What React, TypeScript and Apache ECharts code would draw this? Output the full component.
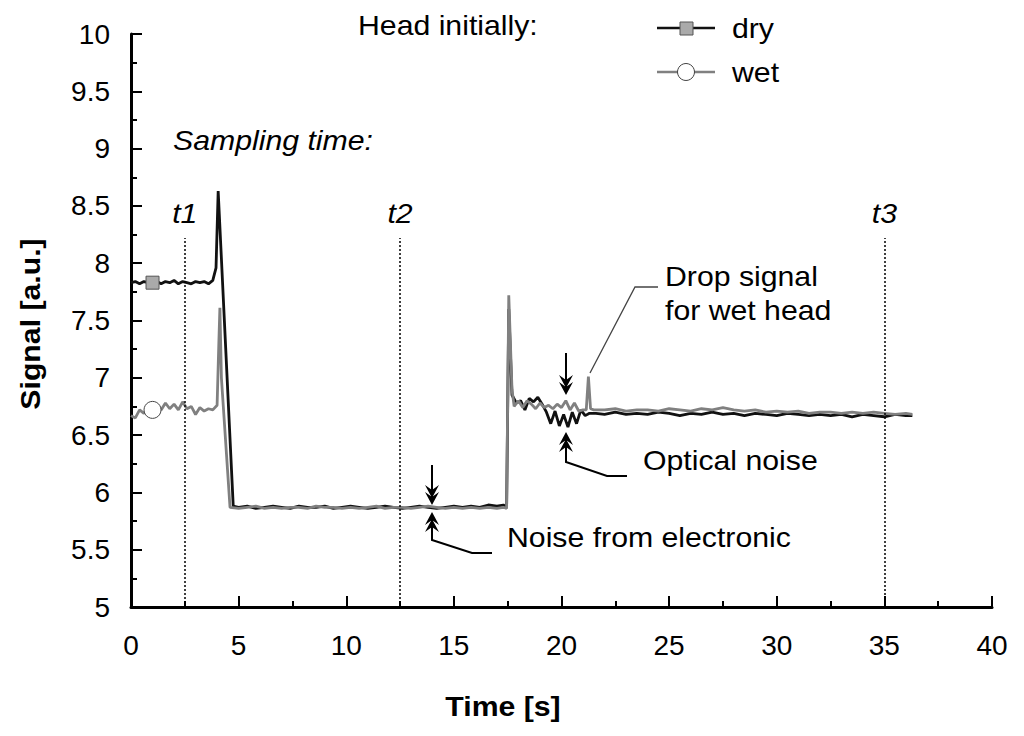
import React, { useEffect, useRef } from "react";
import * as echarts from "echarts";

// ---- data ----
const xTicks = [0, 5, 10, 15, 20, 25, 30, 35, 40];
const yTicks = [5, 5.5, 6, 6.5, 7, 7.5, 8, 8.5, 9, 9.5, 10];
const samplingTimes = [2.5, 12.5, 35];
const samplingLabels = ["t1", "t2", "t3"];
const samplingLineTop = 8.22;

const dryData: [number, number][] = [
  [0, 7.83], [0.2, 7.84], [0.4, 7.82], [0.6, 7.84], [0.8, 7.83], [1.0, 7.83], [1.2, 7.84], [1.4, 7.82],
  [1.6, 7.84], [1.8, 7.83], [2.0, 7.85], [2.2, 7.82], [2.4, 7.84], [2.6, 7.83], [2.8, 7.82], [3.0, 7.84],
  [3.2, 7.83], [3.4, 7.84], [3.6, 7.82], [3.8, 7.85], [3.95, 7.96], [4.05, 8.63], [4.75, 5.88],
  [5.0, 5.87], [5.4, 5.88], [5.8, 5.86], [6.2, 5.87], [6.6, 5.88], [7.0, 5.87], [7.4, 5.86], [7.8, 5.88],
  [8.2, 5.87], [8.6, 5.87], [9.0, 5.88], [9.4, 5.86], [9.8, 5.87], [10.2, 5.88], [10.6, 5.87], [11.0, 5.86],
  [11.4, 5.87], [11.8, 5.88], [12.2, 5.87], [12.6, 5.86], [13.0, 5.87], [13.4, 5.88], [13.8, 5.87], [14.2, 5.86],
  [14.6, 5.87], [15.0, 5.88], [15.4, 5.87], [15.8, 5.88], [16.2, 5.87], [16.6, 5.89], [17.0, 5.88], [17.3, 5.89],
  [17.45, 5.87], [17.55, 7.6], [17.7, 6.85], [17.9, 6.78], [18.1, 6.8], [18.3, 6.72], [18.5, 6.82], [18.7, 6.79],
  [18.9, 6.83], [19.1, 6.77], [19.3, 6.7], [19.5, 6.6], [19.7, 6.71], [19.9, 6.58], [20.1, 6.68], [20.3, 6.57],
  [20.5, 6.7], [20.7, 6.6], [20.9, 6.72], [21.1, 6.67], [21.3, 6.69],
  [21.6, 6.69], [22.0, 6.68], [22.5, 6.7], [23.0, 6.68], [23.5, 6.69], [24.0, 6.68], [24.5, 6.7], [25.0, 6.69],
  [25.5, 6.67], [26.0, 6.69], [26.5, 6.68], [27.0, 6.7], [27.5, 6.68], [28.0, 6.69], [28.5, 6.67], [29.0, 6.69],
  [29.5, 6.68], [30.0, 6.67], [30.5, 6.69], [31.0, 6.68], [31.5, 6.67], [32.0, 6.68], [32.5, 6.67], [33.0, 6.68],
  [33.5, 6.66], [34.0, 6.68], [34.5, 6.67], [35.0, 6.66], [35.5, 6.68], [36.0, 6.67], [36.3, 6.67],
];

const wetData: [number, number][] = [
  [0, 6.67], [0.2, 6.65], [0.4, 6.72], [0.6, 6.69], [0.8, 6.73], [1.0, 6.72], [1.2, 6.76], [1.4, 6.72],
  [1.6, 6.78], [1.8, 6.73], [2.0, 6.77], [2.2, 6.72], [2.4, 6.79], [2.6, 6.73], [2.8, 6.75], [3.0, 6.68],
  [3.2, 6.74], [3.4, 6.71], [3.6, 6.73], [3.8, 6.72], [4.0, 6.76], [4.08, 7.3], [4.13, 7.61], [4.2, 7.0],
  [4.6, 5.87],
  [5.0, 5.86], [5.4, 5.87], [5.8, 5.88], [6.2, 5.86], [6.6, 5.87], [7.0, 5.86], [7.4, 5.87], [7.8, 5.87],
  [8.2, 5.86], [8.6, 5.88], [9.0, 5.87], [9.4, 5.87], [9.8, 5.86], [10.2, 5.87], [10.6, 5.86], [11.0, 5.87],
  [11.4, 5.88], [11.8, 5.86], [12.2, 5.87], [12.6, 5.87], [13.0, 5.86], [13.4, 5.87], [13.8, 5.88], [14.2, 5.87],
  [14.6, 5.86], [15.0, 5.87], [15.4, 5.86], [15.8, 5.87], [16.2, 5.86], [16.6, 5.87], [17.0, 5.86], [17.3, 5.87],
  [17.45, 5.86], [17.55, 7.72], [17.7, 6.9], [17.8, 6.75], [18.0, 6.8], [18.2, 6.74], [18.4, 6.8], [18.6, 6.77],
  [18.8, 6.73], [19.0, 6.78], [19.2, 6.74], [19.4, 6.76], [19.6, 6.73], [19.8, 6.77], [20.0, 6.74], [20.2, 6.8],
  [20.4, 6.72], [20.6, 6.78], [20.8, 6.71], [21.0, 6.72], [21.15, 6.72], [21.25, 7.01], [21.35, 6.73], [21.5, 6.72],
  [22.0, 6.72], [22.5, 6.73], [23.0, 6.71], [23.5, 6.72], [24.0, 6.72], [24.5, 6.71], [25.0, 6.73], [25.5, 6.72],
  [26.0, 6.71], [26.5, 6.73], [27.0, 6.72], [27.5, 6.74], [28.0, 6.72], [28.5, 6.71], [29.0, 6.72], [29.5, 6.7],
  [30.0, 6.71], [30.5, 6.7], [31.0, 6.71], [31.5, 6.69], [32.0, 6.7], [32.5, 6.7], [33.0, 6.69], [33.5, 6.7],
  [34.0, 6.69], [34.5, 6.7], [35.0, 6.69], [35.5, 6.68], [36.0, 6.69], [36.3, 6.68],
];

const markerIndex = 5; // sample carrying the series symbol

const FONT = "'Liberation Sans', Arial, sans-serif";
const FS = 28;
const SX = 1.08;
const DRY = "#111111";
const WET = "#808080";

function arrowHeads(x: number, tip: number, dir: 1 | -1) {
  const heads: any[] = [];
  for (let k = 0; k < 2; k++) {
    const t = tip - dir * k * 7;
    heads.push({
      type: "polygon",
      shape: {
        points: [
          [x, t],
          [x - 7, t - dir * 13],
          [x, t - dir * 8],
          [x + 7, t - dir * 13],
        ],
      },
      style: { fill: "#000" },
    });
  }
  return heads;
}

function txt(text: string, x: number, y: number, extra: any = {}) {
  return {
    type: "text",
    x,
    y,
    scaleX: SX,
    style: {
      text,
      fill: "#000",
      font: `${extra.style || "normal"} ${extra.weight || "normal"} ${extra.size || FS}px ${FONT}`,
      textAlign: extra.align || "left",
      textVerticalAlign: "middle",
    },
  };
}

export default function App() {
  const ref = useRef<HTMLDivElement>(null);
  useEffect(() => {
    if (!ref.current) return;
    const chart = echarts.init(ref.current, null, { renderer: "svg" });

    const samplingMarks = samplingTimes.map((t) => [
      { coord: [t, yTicks[0]] },
      { coord: [t, samplingLineTop] },
    ]);

    const graphic: any[] = [
      txt("Head initially:", 358, 25),
      // legend
      { type: "line", shape: { x1: 657, y1: 28, x2: 715, y2: 28 }, style: { stroke: DRY, lineWidth: 2.5 } },
      { type: "rect", shape: { x: 680, y: 22, width: 13, height: 13 }, style: { fill: "#aaaaaa", stroke: "#555", lineWidth: 1 } },
      txt("dry", 732, 28),
      { type: "line", shape: { x1: 657, y1: 72, x2: 715, y2: 72 }, style: { stroke: WET, lineWidth: 2.5 } },
      { type: "circle", shape: { cx: 686, cy: 72, r: 8.5 }, style: { fill: "#fff", stroke: "#444", lineWidth: 1 } },
      txt("wet", 732, 72),
      txt("Sampling time:", 173, 140, { style: "italic" }),
      txt("Drop signal", 665, 276),
      txt("for wet head", 665, 310),
      txt("Optical noise", 643, 460),
      txt("Noise from electronic", 507, 537),
      txt("Time [s]", 503, 706, { weight: "bold", align: "center" }),
      {
        type: "text",
        x: 30,
        y: 324,
        rotation: Math.PI / 2,
        scaleX: SX,
        style: {
          text: "Signal [a.u.]",
          fill: "#000",
          font: `normal bold ${FS}px ${FONT}`,
          textAlign: "center",
          textVerticalAlign: "middle",
        },
      },
      // drop signal leader
      {
        type: "polyline",
        shape: { points: [[590, 373], [635, 287], [658, 287]] },
        style: { stroke: "#444", lineWidth: 1.3, fill: "none" },
      },
      // optical noise arrows
      { type: "line", shape: { x1: 566, y1: 353, x2: 566, y2: 388 }, style: { stroke: "#000", lineWidth: 2 } },
      ...arrowHeads(566, 395, 1),
      {
        type: "polyline",
        shape: { points: [[566, 438], [566, 462], [607, 476], [627, 476]] },
        style: { stroke: "#000", lineWidth: 2, fill: "none" },
      },
      ...arrowHeads(566, 432, -1),
      // electronic noise arrows
      { type: "line", shape: { x1: 432, y1: 465, x2: 432, y2: 498 }, style: { stroke: "#000", lineWidth: 2 } },
      ...arrowHeads(432, 505, 1),
      {
        type: "polyline",
        shape: { points: [[432, 518], [432, 540], [472, 553], [492, 553]] },
        style: { stroke: "#000", lineWidth: 2, fill: "none" },
      },
      ...arrowHeads(432, 512, -1),
    ];

    chart.setOption({
      animation: false,
      backgroundColor: "#fff",
      textStyle: { fontFamily: FONT },
      grid: { left: 131, right: 32, top: 34, bottom: 129, containLabel: false },
      xAxis: {
        type: "value",
        min: xTicks[0],
        max: xTicks[xTicks.length - 1],
        interval: 5,
        axisLine: { lineStyle: { color: "#000", width: 3 } },
        axisTick: { inside: true, length: 11, lineStyle: { color: "#000", width: 2 } },
        minorTick: { show: true, splitNumber: 2, length: 6, lineStyle: { color: "#000", width: 2 } },
        splitLine: { show: false },
        axisLabel: { color: "#000", fontSize: FS, fontFamily: FONT, margin: 24 },
      },
      yAxis: {
        type: "value",
        min: yTicks[0],
        max: yTicks[yTicks.length - 1],
        interval: 0.5,
        axisLine: { show: true, lineStyle: { color: "#000", width: 3 } },
        axisTick: { show: true, inside: true, length: 11, lineStyle: { color: "#000", width: 2 } },
        minorTick: { show: true, splitNumber: 2, length: 6, lineStyle: { color: "#000", width: 2 } },
        splitLine: { show: false },
        axisLabel: { color: "#000", fontSize: FS, fontFamily: FONT, margin: 21 },
      },
      series: [
        {
          name: "dry",
          type: "line",
          data: dryData,
          showSymbol: false,
          lineStyle: { color: DRY, width: 2.8 },
          itemStyle: { color: DRY },
          z: 3,
          markPoint: {
            symbol: "rect",
            symbolSize: 13,
            label: { show: false },
            itemStyle: { color: "#aaaaaa", borderColor: "#555", borderWidth: 1 },
            data: [{ coord: dryData[markerIndex] }],
          },
          markLine: {
            silent: true,
            symbol: "none",
            label: { show: false },
            lineStyle: { color: "#000", type: [2, 2], width: 1.5 },
            data: samplingMarks,
          },
        },
        {
          name: "wet",
          type: "line",
          data: wetData,
          showSymbol: false,
          lineStyle: { color: WET, width: 2.8 },
          itemStyle: { color: WET },
          z: 4,
          markPoint: {
            symbol: "circle",
            symbolSize: 17,
            label: { show: false },
            itemStyle: { color: "#fff", borderColor: "#444", borderWidth: 1 },
            data: [{ coord: wetData[markerIndex] }],
          },
        },
      ],
      graphic,
    });

    const labelGraphics = samplingTimes.map((t, i) => {
      const [px] = chart.convertToPixel({ gridIndex: 0 }, [t, 0]) as number[];
      return txt(samplingLabels[i], px, 213, { style: "italic", align: "center" });
    });
    chart.setOption({ graphic: [...graphic, ...labelGraphics] }, { replaceMerge: ["graphic"] });

    return () => chart.dispose();
  }, []);
  return <div ref={ref} style={{ width: 1024, height: 736, position: "absolute", left: 0, top: 0 }} />;
}
